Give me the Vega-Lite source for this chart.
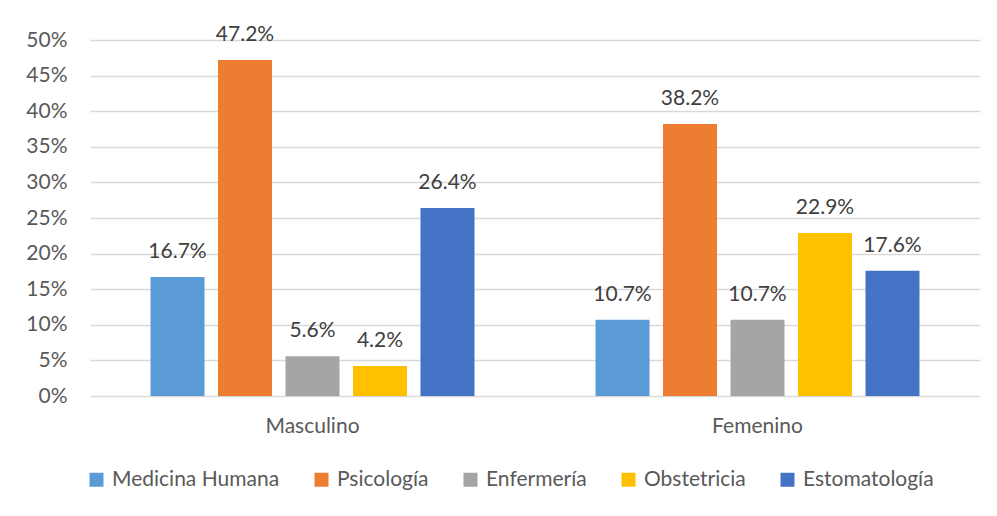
{
  "$schema": "https://vega.github.io/schema/vega-lite/v6.json",
  "width": 890,
  "height": 356,
  "autosize": {"type": "none"},
  "padding": {"left": 90, "top": 40, "right": 17, "bottom": 120},
  "background": "white",
  "config": {
    "font": "Lato",
    "view": {"stroke": null},
    "axis": {"labelFont": "Lato", "labelColor": "#595959", "labelFontSize": 21}
  },
  "data": {
    "values": [
      {"sexo": "Masculino", "carrera": "Medicina Humana", "valor": 0.167},
      {"sexo": "Masculino", "carrera": "Psicología", "valor": 0.472},
      {"sexo": "Masculino", "carrera": "Enfermería", "valor": 0.056},
      {"sexo": "Masculino", "carrera": "Obstetricia", "valor": 0.042},
      {"sexo": "Masculino", "carrera": "Estomatología", "valor": 0.264},
      {"sexo": "Femenino", "carrera": "Medicina Humana", "valor": 0.107},
      {"sexo": "Femenino", "carrera": "Psicología", "valor": 0.382},
      {"sexo": "Femenino", "carrera": "Enfermería", "valor": 0.107},
      {"sexo": "Femenino", "carrera": "Obstetricia", "valor": 0.229},
      {"sexo": "Femenino", "carrera": "Estomatología", "valor": 0.176}
    ]
  },
  "encoding": {
    "x": {
      "field": "sexo",
      "type": "nominal",
      "sort": ["Masculino", "Femenino"],
      "scale": {"paddingInner": 0.272, "paddingOuter": 0.136},
      "axis": {"title": null, "labelAngle": 0, "ticks": false, "domain": false, "labelPadding": 19, "labelColor": "#595959"}
    },
    "xOffset": {
      "field": "carrera",
      "type": "nominal",
      "sort": ["Medicina Humana", "Psicología", "Enfermería", "Obstetricia", "Estomatología"],
      "scale": {"paddingInner": 0.2, "paddingOuter": 0}
    },
    "y": {
      "field": "valor",
      "type": "quantitative",
      "scale": {"domain": [0, 0.5], "nice": false},
      "axis": {"title": null, "format": ".0%", "values": [0, 0.05, 0.1, 0.15, 0.2, 0.25, 0.3, 0.35, 0.4, 0.45, 0.5], "labelOverlap": false, "ticks": false, "domain": false, "gridColor": "#D9D9D9", "gridWidth": 1.3, "labelPadding": 23}
    }
  },
  "layer": [
    {
      "mark": {"type": "bar"},
      "encoding": {
        "color": {
          "field": "carrera",
          "type": "nominal",
          "sort": ["Medicina Humana", "Psicología", "Enfermería", "Obstetricia", "Estomatología"],
          "scale": {
            "domain": ["Medicina Humana", "Psicología", "Enfermería", "Obstetricia", "Estomatología"],
            "range": ["#5B9BD5", "#ED7D31", "#A5A5A5", "#FFC000", "#4472C4"]
          },
          "legend": {
            "title": null,
            "orient": "none",
            "direction": "horizontal",
            "legendX": -4,
            "legendY": 429,
            "symbolType": "square",
            "symbolSize": 196,
            "symbolStrokeWidth": 0,
            "labelFont": "Lato",
            "labelFontSize": 21,
            "labelColor": "#595959",
            "labelOffset": 5,
            "labelLimit": 400,
            "columnPadding": 31,
            "symbolOpacity": 1
          }
        }
      }
    },
    {
      "mark": {"type": "text", "baseline": "alphabetic", "dy": -19, "fontSize": 21, "color": "#404040", "font": "Lato"},
      "encoding": {
        "text": {"field": "valor", "type": "quantitative", "format": ".1%"}
      }
    }
  ]
}
